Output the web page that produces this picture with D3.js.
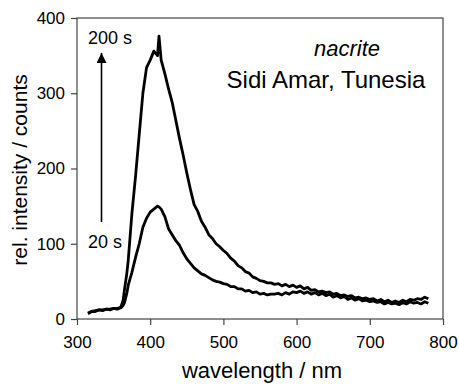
<!DOCTYPE html>
<html>
<head>
<meta charset="utf-8">
<script src="https://cdn.jsdelivr.net/npm/d3@7"></script>
<style>
  body { margin: 0; background: #fff; }
  text { font-family: Arial, "Liberation Sans", sans-serif; fill: #000; }
</style>
</head>
<body>
<svg id="chart" width="459" height="392"></svg>
<script>
// wavelength grid (nm) shared by both spectra
const wavelengths = [315, 320, 325, 330, 335, 340, 345, 350, 355, 360, 363, 365, 368, 370, 375, 380, 385, 390, 395, 400,
  405, 410, 412, 415, 420, 425, 430, 435, 440, 445, 450, 455, 460, 465, 470, 475, 480, 485, 490, 495,
  500, 505, 510, 515, 520, 525, 530, 535, 540, 545, 550, 555, 560, 565, 570, 575, 580, 585, 590, 595,
  600, 605, 610, 615, 620, 625, 630, 635, 640, 645, 650, 655, 660, 665, 670, 675, 680, 685, 690, 695,
  700, 705, 710, 715, 720, 725, 730, 735, 740, 745, 750, 755, 760, 765, 770, 775, 780];

// counts after 200 s
const counts200 = [8, 10, 11, 12, 12, 13, 13, 14, 14, 16, 25, 40, 60, 78, 140, 190, 245, 300, 334, 344,
  356, 350, 376, 344, 326, 306, 288, 264, 240, 218, 194, 172, 152, 143, 130, 122, 112, 107, 100, 96,
  91, 87, 81, 77, 71, 68, 63, 61, 56, 54, 51, 50, 48, 48, 46, 47, 44, 46, 43, 45,
  42, 44, 40, 42, 38, 39, 36, 37, 35, 36, 33, 34, 31, 32, 30, 31, 28, 29, 27, 28,
  26, 27, 24, 26, 23, 25, 22, 24, 22, 25, 23, 26, 25, 27, 26, 29, 27];

// counts after 20 s
const counts20 = [7, 10, 10, 12, 11, 13, 12, 14, 13, 15, 18, 22, 34, 45, 62, 82, 100, 122, 134, 142,
  146, 150, 149, 146, 136, 120, 112, 104, 98, 88, 80, 74, 68, 64, 60, 58, 55, 52, 50, 49,
  47, 46, 43, 43, 40, 40, 37, 38, 35, 36, 33, 34, 32, 33, 33, 34, 32, 35, 33, 36,
  35, 37, 34, 36, 33, 35, 32, 34, 31, 33, 29, 31, 28, 30, 26, 28, 25, 27, 24, 25,
  23, 24, 22, 23, 20, 22, 20, 21, 19, 22, 20, 23, 21, 22, 20, 23, 21];

const xTicks = [300, 400, 500, 600, 700, 800];
const yTicks = [0, 100, 200, 300, 400];

const svg = d3.select('#chart');
const margin = { top: 18, right: 16, bottom: 73, left: 77 };
const width = 459 - margin.left - margin.right,
  height = 392 - margin.top - margin.bottom;

const g = svg.append('g').attr('transform', `translate(${margin.left},${margin.top})`);

const x = d3.scaleLinear().domain([300, 800]).range([0, width]);
const y = d3.scaleLinear().domain([0, 400]).range([height, 0]);

// frame
g.append('rect')
  .attr('width', width)
  .attr('height', height)
  .attr('fill', 'none')
  .attr('stroke', '#444')
  .attr('stroke-width', 1.2);

const xAxis = g.append('g')
  .attr('transform', `translate(0,${height})`)
  .call(d3.axisBottom(x).tickValues(xTicks).tickSize(6).tickPadding(11));
const yAxis = g.append('g')
  .call(d3.axisLeft(y).tickValues(yTicks).tickSize(6).tickPadding(6));

[xAxis, yAxis].forEach(a => {
  a.select('.domain').remove();
  a.selectAll('line').attr('stroke', '#444').attr('stroke-width', 1.2);
  a.selectAll('text').attr('font-size', 17).attr('font-family', 'Arial, "Liberation Sans", sans-serif').attr('fill', '#000');
});

// spectra
const line = d3.line()
  .x((d, i) => x(wavelengths[i]))
  .y(d => y(d));

[counts20, counts200].forEach(series => {
  g.append('path')
    .datum(series)
    .attr('fill', 'none')
    .attr('stroke', '#000')
    .attr('stroke-width', 2.8)
    .attr('stroke-linejoin', 'round')
    .attr('d', line);
});

// axis titles
svg.append('text')
  .attr('x', 262)
  .attr('y', 378)
  .attr('text-anchor', 'middle')
  .attr('font-size', 22)
  .text('wavelength / nm');

svg.append('text')
  .attr('transform', `translate(27,170) rotate(-90)`)
  .attr('text-anchor', 'middle')
  .attr('font-size', 21)
  .text('rel. intensity / counts');

// annotations
svg.append('text')
  .attr('x', 347)
  .attr('y', 56)
  .attr('text-anchor', 'middle')
  .attr('font-size', 22)
  .attr('font-style', 'italic')
  .text('nacrite');

svg.append('text')
  .attr('x', 326)
  .attr('y', 88)
  .attr('text-anchor', 'middle')
  .attr('font-size', 24)
  .text('Sidi Amar, Tunesia');

svg.append('defs').append('marker')
  .attr('id', 'arrow')
  .attr('viewBox', '0 0 10 10')
  .attr('refX', 10).attr('refY', 5)
  .attr('markerWidth', 10).attr('markerHeight', 10)
  .attr('markerUnits', 'userSpaceOnUse')
  .attr('orient', 'auto')
  .append('path')
  .attr('d', 'M0,0 L10,5 L0,10 Z')
  .attr('fill', '#000');

svg.append('line')
  .attr('x1', 101.5).attr('y1', 222)
  .attr('x2', 101.5).attr('y2', 53)
  .attr('stroke', '#000')
  .attr('stroke-width', 1.6)
  .attr('marker-end', 'url(#arrow)');

svg.append('text')
  .attr('x', 110)
  .attr('y', 44)
  .attr('text-anchor', 'middle')
  .attr('font-size', 18)
  .text('200 s');

svg.append('text')
  .attr('x', 105)
  .attr('y', 248)
  .attr('text-anchor', 'middle')
  .attr('font-size', 18)
  .text('20 s');
</script>
</body>
</html>
